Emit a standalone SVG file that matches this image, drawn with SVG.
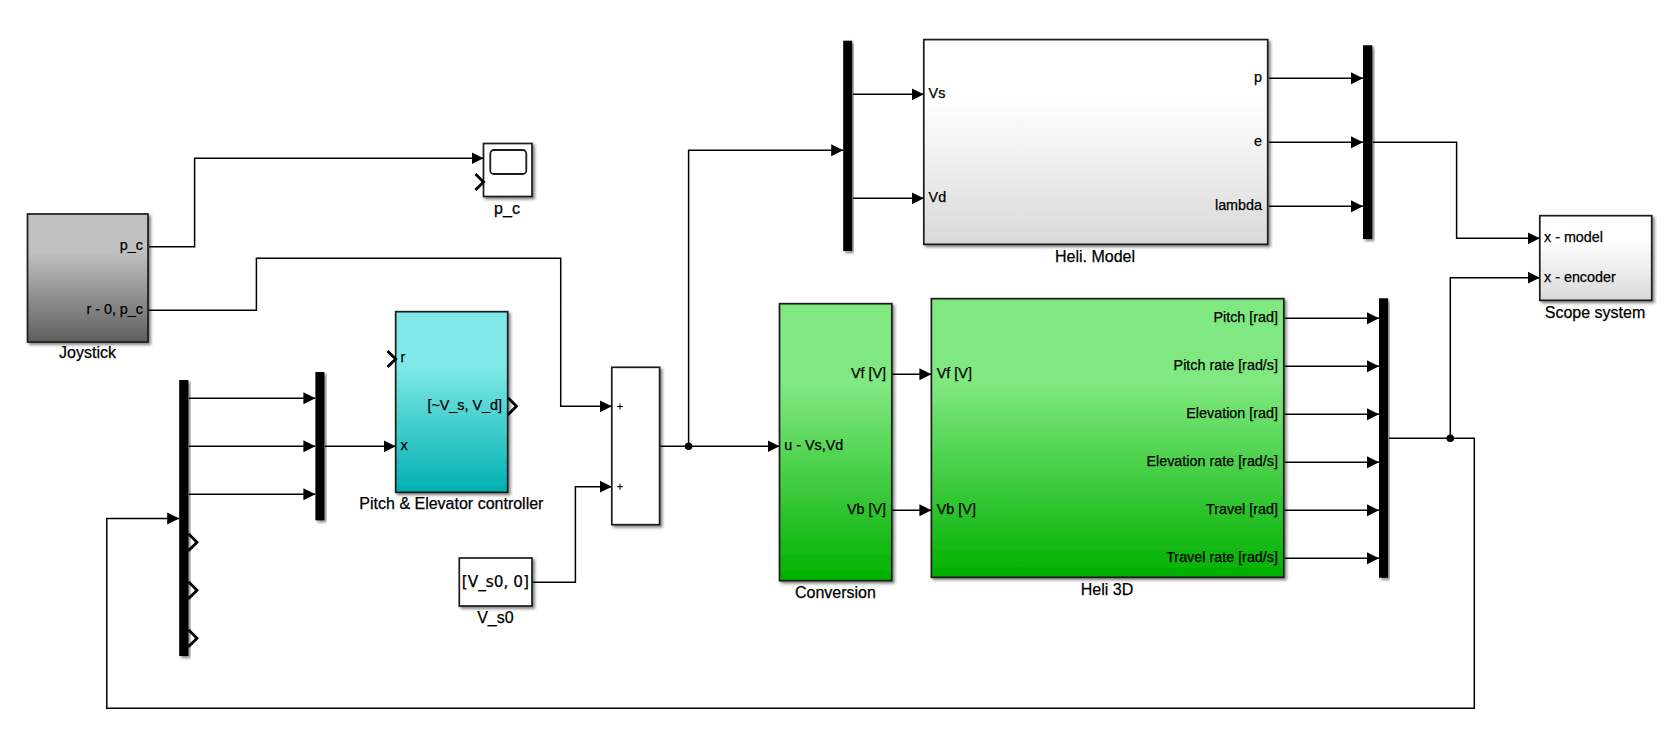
<svg xmlns="http://www.w3.org/2000/svg" width="1674" height="746" viewBox="0 0 1674 746">
<defs>
<style>
.b{stroke:#1c1c1c;stroke-width:1.7;filter:url(#sh)}
.bar{fill:#000;filter:url(#sh)}
.w{fill:#fff}
.c{fill:none;stroke:#000;stroke-width:1.5}
.a{fill:none;stroke:#000;stroke-width:1.5;marker-end:url(#arr)}
.ch{fill:none;stroke:#000;stroke-width:2.8}
text{font-family:"Liberation Sans",Arial,sans-serif;fill:#000;stroke:#000;stroke-width:.25}
.p{font-size:14.35px}
.l{font-size:16px;text-anchor:middle}
.r{text-anchor:end}
</style>
<filter id="sh" x="-20%" y="-20%" width="140%" height="140%"><feDropShadow dx="2" dy="2" stdDeviation="1.6" flood-color="#000" flood-opacity=".5"/></filter>
<marker id="arr" markerUnits="userSpaceOnUse" markerWidth="13" markerHeight="13" refX="12" refY="6.5" orient="auto"><path d="M0,.5 L12,6.5 L0,12.5 Z" fill="#000"/></marker>
<linearGradient id="gGray" x1="0" y1="0" x2="0" y2="1"><stop offset=".3" stop-color="#c0c0c0"/><stop offset="1" stop-color="#5f5f5f"/></linearGradient>
<linearGradient id="gWhite" x1="0" y1="0" x2="0" y2="1"><stop offset=".3" stop-color="#fff"/><stop offset="1" stop-color="#d9d9d9"/></linearGradient>
<linearGradient id="gCyan" x1="0" y1="0" x2="0" y2="1"><stop offset=".3" stop-color="#80e8e8"/><stop offset="1" stop-color="#00b0b0"/></linearGradient>
<linearGradient id="gGreen" x1="0" y1="0" x2="0" y2="1"><stop offset=".3" stop-color="#80e880"/><stop offset="1" stop-color="#00b000"/></linearGradient>
</defs>
<rect width="1674" height="746" fill="#fff"/>
<g id="joystick">
<rect class="b" x="27.5" y="214" width="120.5" height="128" fill="url(#gGray)"/>
<text class="p r" x="143" y="250">p_c</text>
<text class="p r" x="143" y="314">r - 0, p_c</text>
<text class="l" x="87.5" y="358">Joystick</text>
</g>
<g id="scope-pc">
<rect class="b w" x="483.5" y="143.5" width="48.5" height="53"/>
<rect x="490.3" y="150" width="36" height="24" rx="3.5" fill="#fff" stroke="#1c1c1c" stroke-width="1.8"/>
<path class="ch" d="M475.5,174 L483.5,182 L475.5,190"/>
<text class="l" x="507" y="214.3">p_c</text>
</g>
<g id="controller">
<rect class="b" x="395.7" y="311.7" width="112" height="180.6" fill="url(#gCyan)"/>
<path class="ch" d="M387.5,351 L395.7,359 L387.5,367"/>
<path class="ch" d="M508,397.8 L516.5,406.3 L508,414.8"/>
<text class="p" x="400.5" y="362">r</text>
<text class="p" x="400.5" y="450">x</text>
<text class="p r" x="502" y="410">[~V_s, V_d]</text>
<text class="l" x="451.4" y="509.3">Pitch &amp; Elevator controller</text>
</g>
<g id="demux-x">
<rect class="bar" x="179.2" y="380" width="9.2" height="276"/>
<path class="ch" d="M188.4,533.8 L197,542.3 L188.4,550.8 M188.4,581.8 L197,590.3 L188.4,598.8 M188.4,629.8 L197,638.3 L188.4,646.8"/>
</g>
<g id="mux-x"><rect class="bar" x="315.4" y="372" width="9" height="148.3"/></g>
<g id="sum">
<rect class="b w" x="611.8" y="367.3" width="47.8" height="157.4"/>
<path d="M617,406.5 h6 M620,403.5 v6 M617,486.7 h6 M620,483.7 v6" stroke="#000" stroke-width="1" fill="none"/>
</g>
<g id="v-s0">
<rect class="b w" x="459.3" y="558" width="72.7" height="48"/>
<text x="495.4" y="586.5" text-anchor="middle" style="font-family:'DejaVu Sans',sans-serif;font-size:15.3px">[V_s0, 0]</text>
<text class="l" x="495.4" y="622.7">V_s0</text>
</g>
<g id="conversion">
<rect class="b" x="779.5" y="303.7" width="112.3" height="277" fill="url(#gGreen)"/>
<text class="p" x="784.3" y="450">u - Vs,Vd</text>
<text class="p r" x="886" y="378">Vf [V]</text>
<text class="p r" x="886" y="514">Vb [V]</text>
<text class="l" x="835.4" y="597.7">Conversion</text>
</g>
<g id="heli-3d">
<rect class="b" x="931.4" y="298.7" width="352.4" height="278.6" fill="url(#gGreen)"/>
<text class="p" x="936.8" y="378">Vf [V]</text>
<text class="p" x="936.8" y="514">Vb [V]</text>
<text class="p r" x="1278" y="322.3">Pitch [rad]</text>
<text class="p r" x="1278" y="370.3">Pitch rate [rad/s]</text>
<text class="p r" x="1278" y="418.3">Elevation [rad]</text>
<text class="p r" x="1278" y="466.3">Elevation rate [rad/s]</text>
<text class="p r" x="1278" y="514.3">Travel [rad]</text>
<text class="p r" x="1278" y="562.3">Travel rate [rad/s]</text>
<text class="l" x="1107" y="594.7">Heli 3D</text>
</g>
<g id="demux-u"><rect class="bar" x="843.2" y="40.7" width="8.9" height="210.3"/></g>
<g id="heli-model">
<rect class="b" x="923.8" y="39.6" width="343.9" height="204.7" fill="url(#gWhite)"/>
<text class="p" x="928.6" y="98">Vs</text>
<text class="p" x="928.6" y="202">Vd</text>
<text class="p r" x="1262" y="82">p</text>
<text class="p r" x="1262" y="146">e</text>
<text class="p r" x="1262" y="210">lambda</text>
<text class="l" x="1095" y="261.7">Heli. Model</text>
</g>
<g id="mux-model"><rect class="bar" x="1363" y="45.3" width="9.3" height="193.7"/></g>
<g id="mux-encoder"><rect class="bar" x="1379" y="298.3" width="9" height="279.4"/></g>
<g id="scope-system">
<rect class="b" x="1539.8" y="215.7" width="111.9" height="84.6" fill="url(#gWhite)"/>
<text class="p" x="1544" y="241.7">x - model</text>
<text class="p" x="1544" y="281.7">x - encoder</text>
<text class="l" x="1595" y="317.7">Scope system</text>
</g>
<g id="connectors">
<polyline class="a" points="149,246.7 194.6,246.7 194.6,158.3 483.5,158.3"/>
<polyline class="a" points="149,310.3 256.4,310.3 256.4,258.3 560.7,258.3 560.7,406.3 611.8,406.3"/>
<polyline class="a" points="533,582.3 575.4,582.3 575.4,486.7 611.8,486.7"/>
<polyline class="a" points="660.5,446.3 779.5,446.3"/>
<polyline class="a" points="688.6,446.3 688.6,150.3 843.2,150.3"/>
<polyline class="a" points="853,94.3 923.8,94.3"/>
<polyline class="a" points="853,198.3 923.8,198.3"/>
<polyline class="a" points="1269,78.3 1363,78.3"/>
<polyline class="a" points="1269,142.3 1363,142.3"/>
<polyline class="a" points="1269,206.3 1363,206.3"/>
<polyline class="a" points="1373,142.3 1456.6,142.3 1456.6,238.3 1539.8,238.3"/>
<polyline class="a" points="1450.3,438.3 1450.3,277.7 1539.8,277.7"/>
<polyline class="a" points="1389,438.3 1474.3,438.3 1474.3,708.3 106.8,708.3 106.8,518.5 179.2,518.5"/>
<polyline class="a" points="892.5,374.3 931.4,374.3"/>
<polyline class="a" points="892.5,510.3 931.4,510.3"/>
<polyline class="a" points="1285,318.3 1379,318.3"/>
<polyline class="a" points="1285,366.3 1379,366.3"/>
<polyline class="a" points="1285,414.3 1379,414.3"/>
<polyline class="a" points="1285,462.3 1379,462.3"/>
<polyline class="a" points="1285,510.3 1379,510.3"/>
<polyline class="a" points="1285,558.3 1379,558.3"/>
<polyline class="a" points="189,398.3 315.4,398.3"/>
<polyline class="a" points="189,446.3 315.4,446.3"/>
<polyline class="a" points="189,494.3 315.4,494.3"/>
<polyline class="a" points="325,446.3 395.7,446.3"/>
<circle cx="688.6" cy="446.3" r="3.8" fill="#000"/>
<circle cx="1450.3" cy="438.3" r="3.8" fill="#000"/>
</g>
</svg>
